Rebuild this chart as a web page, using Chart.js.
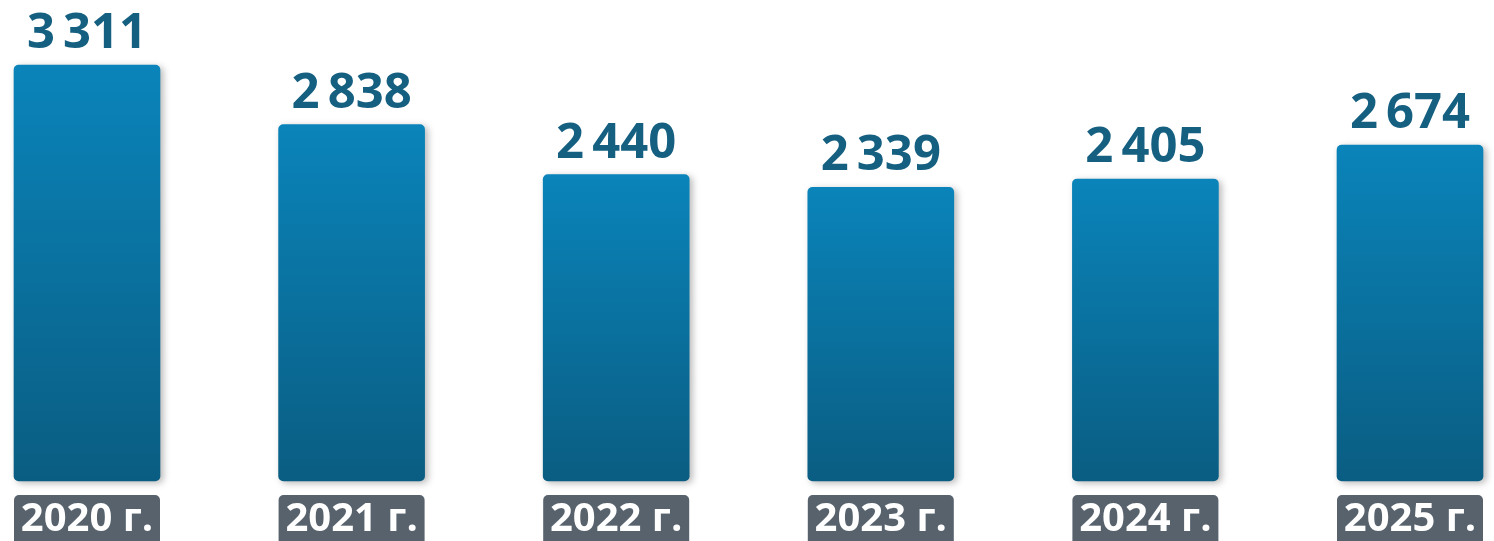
<!DOCTYPE html>
<html>
<head>
<meta charset="utf-8">
<script src="https://cdn.jsdelivr.net/npm/chart.js@4.4.1/dist/chart.umd.min.js"></script>
<style>
  html, body { margin: 0; padding: 0; background: #fff; }
  #wrap { width: 1494px; height: 541px; position: relative; }
</style>
</head>
<body>
<div id="wrap"><canvas id="grafico"></canvas></div>
<script>
// данные
const years = ["2020 г.", "2021 г.", "2022 г.", "2023 г.", "2024 г.", "2025 г."];
const values = [3311, 2838, 2440, 2339, 2405, 2674];

const BAR_W = 146;

// 3311 -> "3 311" (узкий пробел)
function fmt(n) {
  return String(n).replace(/\B(?=(\d{3})+(?!\d))/g, "\u2009");
}

// градиент на каждый столбец
function barGradient(ctx) {
  const chart = ctx.chart;
  if (!chart.chartArea || ctx.dataIndex === undefined) return "#0a78aa";
  const y = chart.scales.y;
  const top = y.getPixelForValue(ctx.raw);
  const bottom = y.getPixelForValue(0);
  const g = chart.ctx.createLinearGradient(0, top, 0, bottom);
  g.addColorStop(0, "#0a84ba");
  g.addColorStop(1, "#0a5d82");
  return g;
}

//  тень под столбцами
const shadowPlugin = {
  id: "barShadow",
  beforeDatasetDraw(chart) {
    const c = chart.ctx;
    c.save();
    c.shadowColor = "rgba(0,0,0,0.28)";
    c.shadowBlur = 7;
    c.shadowOffsetX = 3;
    c.shadowOffsetY = 2;
  },
  afterDatasetDraw(chart) {
    chart.ctx.restore();
  }
};

//  подписи: значения сверху и годы в серых плашках
const labelsPlugin = {
  id: "labels",
  afterDatasetsDraw(chart) {
    const c = chart.ctx;
    const meta = chart.getDatasetMeta(0);
    const xs = chart.scales.x;
    c.save();
    c.textAlign = "center";
    c.textBaseline = "alphabetic";

    meta.data.forEach((bar, i) => {
      c.fillStyle = "#155f80";
      c.font = "bold 49px 'Open Sans'";
      c.fillText(fmt(values[i]), bar.x, bar.y - 17);
    });

    years.forEach((label, i) => {
      const x = xs.getPixelForValue(i);
      c.fillStyle = "#57626d";
      c.beginPath();
      c.roundRect(x - BAR_W / 2, 495, BAR_W, 70, 5);
      c.fill();
      c.fillStyle = "#ffffff";
      c.font = "bold 40px 'Open Sans'";
      c.fillText(label, x, 531);
    });
    c.restore();
  }
};

new Chart(document.getElementById("grafico"), {
  type: "bar",
  data: {
    labels: years,
    datasets: [{
      data: values,
      backgroundColor: barGradient,
      barThickness: BAR_W,
      borderRadius: 5,
      borderSkipped: false,
      clip: false
    }]
  },
  options: {
    responsive: true,
    maintainAspectRatio: false,
    devicePixelRatio: 1,
    animation: false,
    layout: { padding: { left: 87, right: 84, top: 0, bottom: 60 } },
    plugins: {
      legend: { display: false },
      tooltip: { enabled: false }
    },
    scales: {
      x: { display: false, offset: false, grid: { display: false } },
      y: { display: false, min: 0, max: 3830 }
    }
  },
  plugins: [shadowPlugin, labelsPlugin]
});
</script>
</body>
</html>
